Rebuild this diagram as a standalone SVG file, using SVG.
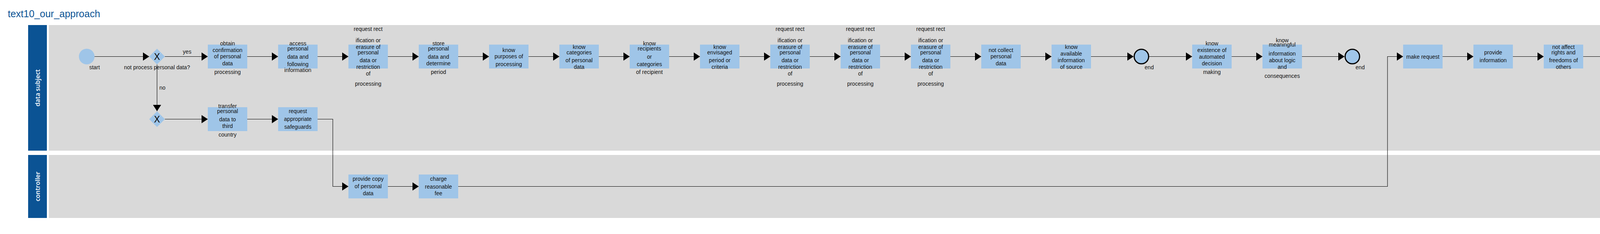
<svg xmlns="http://www.w3.org/2000/svg" width="4459" height="598" viewBox="0 0 4459 598">
<style>
.lanehdr{fill:#0B5394}
.lanebody{fill:#D9D9D9}
.lanelbl{font-family:"Open Sans","Liberation Sans",sans-serif;font-weight:600;font-size:16px;fill:#FFFFFF;text-anchor:middle}
.task{fill:#9FC5E8}
.t{font-family:"Liberation Sans",Arial,sans-serif;font-size:14px;fill:#111111;text-anchor:middle}
.lbl{font-family:"Liberation Sans",Arial,sans-serif;font-size:14px;fill:#111111}
.gw{fill:#9FC5E8}
.gwx{font-family:"Liberation Sans",Arial,sans-serif;font-size:23px;fill:#000000;text-anchor:middle}
.start{fill:#9FC5E8}
.end{fill:#9FC5E8;stroke:#000000;stroke-width:3}
.flow{fill:none;stroke:#000000;stroke-width:1.1;marker-end:url(#arrow)}
.title{font-family:"Liberation Sans",Arial,sans-serif;font-size:25px;fill:#0B5394}
</style>
<defs>
<marker id="arrow" markerUnits="userSpaceOnUse" markerWidth="16" markerHeight="21" refX="16" refY="10.5" orient="auto">
<path d="M0,0 L16,10.5 L0,21 Z" fill="#000000"/>
</marker>
</defs>
<rect width="4459" height="598" fill="#FFFFFF"/>
<text class="title" x="20" y="44">text10_our_approach</text>

<g id="lane-data-subject">
<rect class="lanehdr" x="72" y="64" width="48" height="321"/>
<rect class="lanebody" x="125" y="64" width="4317" height="321"/>
<text class="lanelbl" transform="translate(102,224.5) rotate(-90)">data subject</text>
</g>
<g id="lane-controller">
<rect class="lanehdr" x="72" y="396" width="48" height="161"/>
<rect class="lanebody" x="125" y="396" width="4317" height="161"/>
<text class="lanelbl" transform="translate(102,476.5) rotate(-90)">controller</text>
</g>

<g id="connectors">
<path class="flow" d="M242 144.5 H382"/>
<path class="flow" d="M422 144.5 H532"/>
<path class="flow" d="M402 165 V284"/>
<path class="flow" d="M422 304.5 H532"/>
<path class="flow" d="M633 304.5 H712"/>
<path class="flow" d="M813 304.5 H852 V476.5 H892"/>
<path class="flow" d="M993 476.5 H1072"/>
<path class="flow" d="M1173 476.5 H3552 V144.5 H3592"/>
<path class="flow" d="M633 144.5 H712"/>
<path class="flow" d="M813 144.5 H892"/>
<path class="flow" d="M993 144.5 H1072"/>
<path class="flow" d="M1173 144.5 H1252"/>
<path class="flow" d="M1353 144.5 H1432"/>
<path class="flow" d="M1533 144.5 H1612"/>
<path class="flow" d="M1713 144.5 H1792"/>
<path class="flow" d="M1893 144.5 H1972"/>
<path class="flow" d="M2073 144.5 H2152"/>
<path class="flow" d="M2253 144.5 H2332"/>
<path class="flow" d="M2433 144.5 H2512"/>
<path class="flow" d="M2613 144.5 H2692"/>
<path class="flow" d="M2793 144.5 H2902"/>
<path class="flow" d="M2942 144.5 H3052"/>
<path class="flow" d="M3153 144.5 H3232"/>
<path class="flow" d="M3333 144.5 H3442"/>
<path class="flow" d="M3693 144.5 H3772"/>
<path class="flow" d="M3873 144.5 H3952"/>
<path class="flow" d="M4053 144.5 H4132"/>
<path class="flow" d="M4233 144.5 H4342"/>
<text class="lbl" x="479" y="137" text-anchor="middle">yes</text>
<text class="lbl" x="408" y="229">no</text>
</g>

<g id="start">
<circle class="start" cx="222" cy="144.5" r="20"/>
<text class="t" x="242" y="177">start</text>
</g>

<g id="gateway-1">
<path class="gw" d="M402 124.5 L422 144.5 L402 164.5 L382 144.5 Z"/>
<text class="gwx" x="402" y="153">X</text>
<text class="t" x="402" y="177">not process personal data?</text>
</g>

<g id="gateway-2">
<path class="gw" d="M402 284.5 L422 304.5 L402 324.5 L382 304.5 Z"/>
<text class="gwx" x="402" y="313">X</text>
</g>

<g id="task-obtain-confirmation">
<rect class="task" x="532" y="114" width="101" height="61"/>
<text class="t"><tspan x="582.5" y="115.5">obtain</tspan><tspan x="582.5" y="132.5">confirmation</tspan><tspan x="582.5" y="148.5">of personal</tspan><tspan x="582.5" y="166.5">data</tspan><tspan x="582.5" y="188.5">processing</tspan></text>
</g>

<g id="task-access">
<rect class="task" x="712" y="114" width="101" height="61"/>
<text class="t"><tspan x="762.5" y="115.5">access</tspan><tspan x="762.5" y="128.5">personal</tspan><tspan x="762.5" y="149.5">data and</tspan><tspan x="762.5" y="168.5">following</tspan><tspan x="762.5" y="183.5">information</tspan></text>
</g>

<g id="task-request-rect-1">
<rect class="task" x="892" y="114" width="101" height="61"/>
<text class="t"><tspan x="942.5" y="78.5">request rect</tspan><tspan x="942.5" y="107.5">ification or</tspan><tspan x="942.5" y="124.5">erasure of</tspan><tspan x="942.5" y="138.5">personal</tspan><tspan x="942.5" y="158.5">data or</tspan><tspan x="942.5" y="175.5">restriction</tspan><tspan x="942.5" y="192.5">of</tspan><tspan x="942.5" y="218.5">processing</tspan></text>
</g>

<g id="task-store">
<rect class="task" x="1072" y="114" width="101" height="61"/>
<text class="t"><tspan x="1122.5" y="115.5">store</tspan><tspan x="1122.5" y="128.5">personal</tspan><tspan x="1122.5" y="149.5">data and</tspan><tspan x="1122.5" y="166.5">determine</tspan><tspan x="1122.5" y="188.5">period</tspan></text>
</g>

<g id="task-know-purposes">
<rect class="task" x="1252" y="114" width="101" height="61"/>
<text class="t"><tspan x="1302.5" y="132.5">know</tspan><tspan x="1302.5" y="148.5">purposes of</tspan><tspan x="1302.5" y="168.5">processing</tspan></text>
</g>

<g id="task-know-categories">
<rect class="task" x="1432" y="114" width="101" height="61"/>
<text class="t"><tspan x="1482.5" y="124.5">know</tspan><tspan x="1482.5" y="138.5">categories</tspan><tspan x="1482.5" y="158.5">of personal</tspan><tspan x="1482.5" y="175.5">data</tspan></text>
</g>

<g id="task-know-recipients">
<rect class="task" x="1612" y="114" width="101" height="61"/>
<text class="t"><tspan x="1662.5" y="115.5">know</tspan><tspan x="1662.5" y="128.5">recipients</tspan><tspan x="1662.5" y="149.5">or</tspan><tspan x="1662.5" y="168.5">categories</tspan><tspan x="1662.5" y="188.5">of recipient</tspan></text>
</g>

<g id="task-know-envisaged">
<rect class="task" x="1792" y="114" width="101" height="61"/>
<text class="t"><tspan x="1842.5" y="124.5">know</tspan><tspan x="1842.5" y="138.5">envisaged</tspan><tspan x="1842.5" y="158.5">period or</tspan><tspan x="1842.5" y="175.5">criteria</tspan></text>
</g>

<g id="task-request-rect-2">
<rect class="task" x="1972" y="114" width="101" height="61"/>
<text class="t"><tspan x="2022.5" y="78.5">request rect</tspan><tspan x="2022.5" y="107.5">ification or</tspan><tspan x="2022.5" y="124.5">erasure of</tspan><tspan x="2022.5" y="138.5">personal</tspan><tspan x="2022.5" y="158.5">data or</tspan><tspan x="2022.5" y="175.5">restriction</tspan><tspan x="2022.5" y="192.5">of</tspan><tspan x="2022.5" y="218.5">processing</tspan></text>
</g>

<g id="task-request-rect-3">
<rect class="task" x="2152" y="114" width="101" height="61"/>
<text class="t"><tspan x="2202.5" y="78.5">request rect</tspan><tspan x="2202.5" y="107.5">ification or</tspan><tspan x="2202.5" y="124.5">erasure of</tspan><tspan x="2202.5" y="138.5">personal</tspan><tspan x="2202.5" y="158.5">data or</tspan><tspan x="2202.5" y="175.5">restriction</tspan><tspan x="2202.5" y="192.5">of</tspan><tspan x="2202.5" y="218.5">processing</tspan></text>
</g>

<g id="task-request-rect-4">
<rect class="task" x="2332" y="114" width="101" height="61"/>
<text class="t"><tspan x="2382.5" y="78.5">request rect</tspan><tspan x="2382.5" y="107.5">ification or</tspan><tspan x="2382.5" y="124.5">erasure of</tspan><tspan x="2382.5" y="138.5">personal</tspan><tspan x="2382.5" y="158.5">data or</tspan><tspan x="2382.5" y="175.5">restriction</tspan><tspan x="2382.5" y="192.5">of</tspan><tspan x="2382.5" y="218.5">processing</tspan></text>
</g>

<g id="task-not-collect">
<rect class="task" x="2512" y="114" width="101" height="61"/>
<text class="t"><tspan x="2562.5" y="132.5">not collect</tspan><tspan x="2562.5" y="148.5">personal</tspan><tspan x="2562.5" y="166.5">data</tspan></text>
</g>

<g id="task-know-available">
<rect class="task" x="2692" y="114" width="101" height="61"/>
<text class="t"><tspan x="2742.5" y="124.5">know</tspan><tspan x="2742.5" y="141.5">available</tspan><tspan x="2742.5" y="158.5">information</tspan><tspan x="2742.5" y="175.5">of source</tspan></text>
</g>

<g id="end-1">
<circle class="end" cx="2922" cy="144.5" r="18.5"/>
<text class="t" x="2942" y="177">end</text>
</g>

<g id="task-know-existence">
<rect class="task" x="3052" y="114" width="101" height="61"/>
<text class="t"><tspan x="3102.5" y="115.5">know</tspan><tspan x="3102.5" y="132.5">existence of</tspan><tspan x="3102.5" y="149.5">automated</tspan><tspan x="3102.5" y="166.5">decision</tspan><tspan x="3102.5" y="188.5">making</tspan></text>
</g>

<g id="task-know-meaningful">
<rect class="task" x="3232" y="114" width="101" height="61"/>
<text class="t"><tspan x="3282.5" y="107.5">know</tspan><tspan x="3282.5" y="118.5">meaningful</tspan><tspan x="3282.5" y="141.5">information</tspan><tspan x="3282.5" y="158.5">about logic</tspan><tspan x="3282.5" y="175.5">and</tspan><tspan x="3282.5" y="198.5">consequences</tspan></text>
</g>

<g id="end-2">
<circle class="end" cx="3462" cy="144.5" r="18.5"/>
<text class="t" x="3482" y="177">end</text>
</g>

<g id="task-make-request">
<rect class="task" x="3592" y="114" width="101" height="61"/>
<text class="t" x="3642.5" y="149.5">make request</text>
</g>

<g id="task-provide-information">
<rect class="task" x="3772" y="114" width="101" height="61"/>
<text class="t"><tspan x="3822.5" y="138.5">provide</tspan><tspan x="3822.5" y="158.5">information</tspan></text>
</g>

<g id="task-not-affect">
<rect class="task" x="3952" y="114" width="101" height="61"/>
<text class="t"><tspan x="4002.5" y="124.5">not affect</tspan><tspan x="4002.5" y="138.5">rights and</tspan><tspan x="4002.5" y="158.5">freedoms of</tspan><tspan x="4002.5" y="175.5">others</tspan></text>
</g>

<g id="task-obtain-copy">
<rect class="task" x="4132" y="114" width="101" height="61"/>
<text class="t" x="4182.5" y="149.5">obtain copy</text>
</g>

<g id="end-3">
<circle class="end" cx="4362" cy="144.5" r="18.5"/>
<text class="t" x="4381" y="177">end</text>
</g>

<g id="task-transfer">
<rect class="task" x="532" y="274" width="101" height="61"/>
<text class="t"><tspan x="582.5" y="275.5">transfer</tspan><tspan x="582.5" y="288.5">personal</tspan><tspan x="582.5" y="309.5">data to</tspan><tspan x="582.5" y="326.5">third</tspan><tspan x="582.5" y="348.5">country</tspan></text>
</g>

<g id="task-request-safeguards">
<rect class="task" x="712" y="274" width="101" height="61"/>
<text class="t"><tspan x="762.5" y="288.5">request</tspan><tspan x="762.5" y="308.5">appropriate</tspan><tspan x="762.5" y="328.5">safeguards</tspan></text>
</g>

<g id="task-provide-copy">
<rect class="task" x="892" y="446" width="101" height="61"/>
<text class="t"><tspan x="942.5" y="461.5">provide copy</tspan><tspan x="942.5" y="480.5">of personal</tspan><tspan x="942.5" y="498.5">data</tspan></text>
</g>

<g id="task-charge-fee">
<rect class="task" x="1072" y="446" width="101" height="61"/>
<text class="t"><tspan x="1122.5" y="461.5">charge</tspan><tspan x="1122.5" y="481.5">reasonable</tspan><tspan x="1122.5" y="498.5">fee</tspan></text>
</g>
</svg>
